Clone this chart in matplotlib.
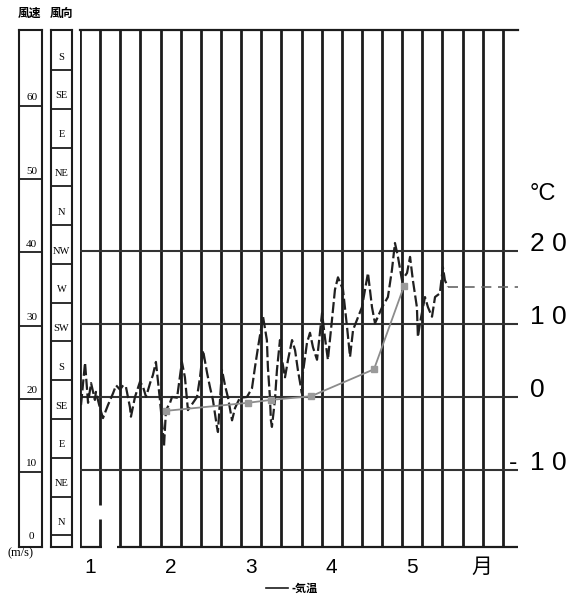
import matplotlib
matplotlib.use("Agg")
import matplotlib.pyplot as plt
from matplotlib.lines import Line2D
from matplotlib import font_manager

plt.rcParams['font.family'] = ['Liberation Sans', 'Noto Sans CJK JP', 'DejaVu Sans']

# daily air temperature (x in grid columns, 4 columns per month; y in deg C)
temp_col = [0.05, 0.25, 0.40, 0.55, 0.74, 0.79, 0.99, 1.14, 1.39, 1.64, 1.79, 1.99,
            2.14, 2.28, 2.48, 2.53, 2.73, 2.98, 3.13, 3.28, 3.48, 3.62, 3.77, 3.97,
            4.12, 4.17, 4.27, 4.47, 4.57, 4.82, 5.06, 5.21, 5.36, 5.61, 5.81, 5.96,
            6.11, 6.31, 6.45, 6.60, 6.80, 6.85, 7.05, 7.20, 7.35, 7.55, 7.70, 7.94,
            8.29, 8.54, 8.69, 8.84, 9.09, 9.28, 9.33, 9.43, 9.48, 9.53, 9.68, 9.78,
            9.93, 10.03, 10.18, 10.33, 10.53, 10.68, 10.82, 11.02, 11.07, 11.27, 11.42, 11.57,
            11.77, 12.02, 12.16, 12.31, 12.51, 12.66, 12.81, 13.06, 13.26, 13.41, 13.56, 14.00,
            14.30, 14.50, 14.65, 15.00, 15.29, 15.49, 15.64, 15.79, 15.99, 16.24, 16.39, 16.53,
            16.73, 16.78, 16.88, 17.13, 17.28, 17.48, 17.63, 17.87, 18.02, 18.12, 18.27]
temp_val = [-1.1, 4.7, -0.8, 1.9, -0.4, 0.7, -1.5, -2.9, -1.1, 0.5, 1.6, 1.0,
            1.6, 1.4, -1.4, -2.7, 0.0, 2.1, 1.4, 0.0, 1.9, 3.0, 4.8, -0.4,
            -4.9, -6.8, -1.8, -0.8, 0.0, -0.1, 4.8, 2.7, -1.8, -0.8, 0.0, 2.7,
            6.4, 3.3, 1.4, -0.4, -4.1, -4.8, 3.7, 1.6, -0.1, -3.2, -1.5, -0.1,
            0.0, 1.2, 4.1, 6.8, 11.0, 7.8, 4.1, 0.0, -3.2, -4.1, -0.4, 3.7,
            7.8, 5.1, 2.7, 5.1, 7.8, 6.4, 3.7, 0.5, 3.3, 7.4, 8.8, 6.8,
            5.1, 11.5, 8.2, 5.1, 10.5, 14.7, 16.4, 14.7, 9.6, 5.5, 9.2, 12.3,
            17.0, 12.3, 10.1, 12.3, 13.7, 17.4, 21.1, 19.2, 16.0, 17.0, 19.2, 16.0,
            12.3, 8.2, 10.1, 13.7, 12.3, 11.0, 13.7, 14.2, 17.8, 16.0, 15.1]
tail_col = [18.27, 21.75]
tail_val = [15.1, 15.1]

# grey line with square markers
mean_col = [4.27, 8.34, 9.48, 11.47, 14.60, 16.09]
mean_val = [-1.9, -0.8, -0.4, 0.1, 3.8, 15.2]

temp_ticks = [20, 10, 0, -10]
temp_labels = ['2 0', '1 0', '0', '1 0']
month_pos = [0.5, 4.5, 8.5, 12.5, 16.5, 19.95]
month_labels = ['1', '2', '3', '4', '5', '月']

speed_ticks = [0, 10, 20, 30, 40, 50, 60]
dir_labels = ['N', 'NE', 'E', 'SE', 'S', 'SW', 'W', 'NW', 'N', 'NE', 'E', 'SE', 'S']

# narrow digits on the right if the font is there
names = {f.name for f in font_manager.fontManager.ttflist}
num_family = ['Liberation Sans Narrow'] if 'Liberation Sans Narrow' in names else ['Liberation Sans']

W, H = 574, 598
fig = plt.figure(figsize=(W / 100, H / 100), dpi=100)
fig.patch.set_facecolor('white')


def box(x0, y0, x1, y1):
    return [x0 / W, 1 - y1 / H, (x1 - x0) / W, (y1 - y0) / H]


ink = '#1c1c1c'

# main grid
ax = fig.add_axes(box(80, 30, 518, 548))
ax.set_xlim(0, 21.75)
ax.set_ylim(-20.7, 50.3)
for s in ['left', 'right', 'bottom']:
    ax.spines[s].set_visible(False)
ax.spines['top'].set_linewidth(1.6)
ax.spines['top'].set_color(ink)

for i in range(22):
    if i == 1:
        ax.vlines(i, -20.7, -16.7, color=ink, lw=2)
        ax.vlines(i, -14.8, 50.3, color=ink, lw=2)
    else:
        ax.vlines(i, -20.7, 50.3, color=ink, lw=2)
ax.hlines(temp_ticks, 0, 21.75, color='#333333', lw=1.5)
ax.hlines(-20.6, 0, 1.1, color=ink, lw=1.6, clip_on=False)
ax.hlines(-20.6, 1.84, 21.75, color=ink, lw=1.6, clip_on=False)

ax.plot(temp_col, temp_val, color='#202020', lw=1.6, ls=(0, (5, 1.6)))
ax.plot(tail_col, tail_val, color='#666666', lw=1.2, ls=(0, (6, 4)))
ax.plot(mean_col, mean_val, color='#8c8c8c', lw=1.3, marker='s', ms=5,
        mfc='#9a9a9a', mec='#9a9a9a')

ax.set_yticks([])
ax.set_xticks(month_pos)
ax.set_xticklabels(month_labels, fontsize=15)
ax.tick_params(axis='x', length=0, pad=7)

for v, lab in zip(temp_ticks, temp_labels):
    ax.text(22.35, v + 0.9, lab, fontsize=19, family=num_family,
            ha='left', va='center', clip_on=False)
ax.text(21.3, -9.1, '-', fontsize=18, ha='left', va='center', clip_on=False)
ax.text(22.35, 27.8, '°C', fontsize=17, family=num_family,
        ha='left', va='center', clip_on=False)

# wind speed column
axs = fig.add_axes(box(19, 30, 42, 547))
axs.set_ylim(-0.27, 70.4)
axs.set_xlim(0, 1)
axs.set_xticks([])
axs.set_yticks([])
for s in axs.spines.values():
    s.set_linewidth(1.5)
    s.set_color(ink)
axs.hlines(speed_ticks[1:], 0, 1, color=ink, lw=1.3)
for v in speed_ticks:
    axs.text(0.55, v + 0.5, str(v), fontsize=8, family='Liberation Serif',
             ha='center', va='bottom')

# wind direction column
axd = fig.add_axes(box(51, 30, 72, 547))
axd.set_ylim(-0.3, 13.03)
axd.set_xlim(0, 1)
axd.set_xticks([])
axd.set_yticks([])
for s in axd.spines.values():
    s.set_linewidth(1.5)
    s.set_color(ink)
axd.hlines(range(13), 0, 1, color=ink, lw=1.3)
for i, lab in enumerate(dir_labels):
    axd.text(0.5, i + 0.33, lab, fontsize=7.5, family='Liberation Serif',
             ha='center', va='center')

fig.text(29 / W, 1 - 14 / H, '風速', fontsize=8.5, ha='center', va='center', weight='bold')
fig.text(62 / W, 1 - 14 / H, '風向', fontsize=8.5, ha='center', va='center', weight='bold')
fig.text(20 / W, 1 - 553 / H, '(m/s)', fontsize=9, family='Liberation Serif',
         ha='center', va='center')

fig.legend(handles=[Line2D([], [], color=ink, lw=1.2)], labels=['-気温'],
           loc='center', bbox_to_anchor=(292 / W, 1 - 588 / H), frameon=False,
           handlelength=2.0, handletextpad=0.3,
           prop={'family': ['Noto Sans CJK JP'], 'size': 8, 'weight': 'bold'})

fig.savefig('out.png', dpi=100)
